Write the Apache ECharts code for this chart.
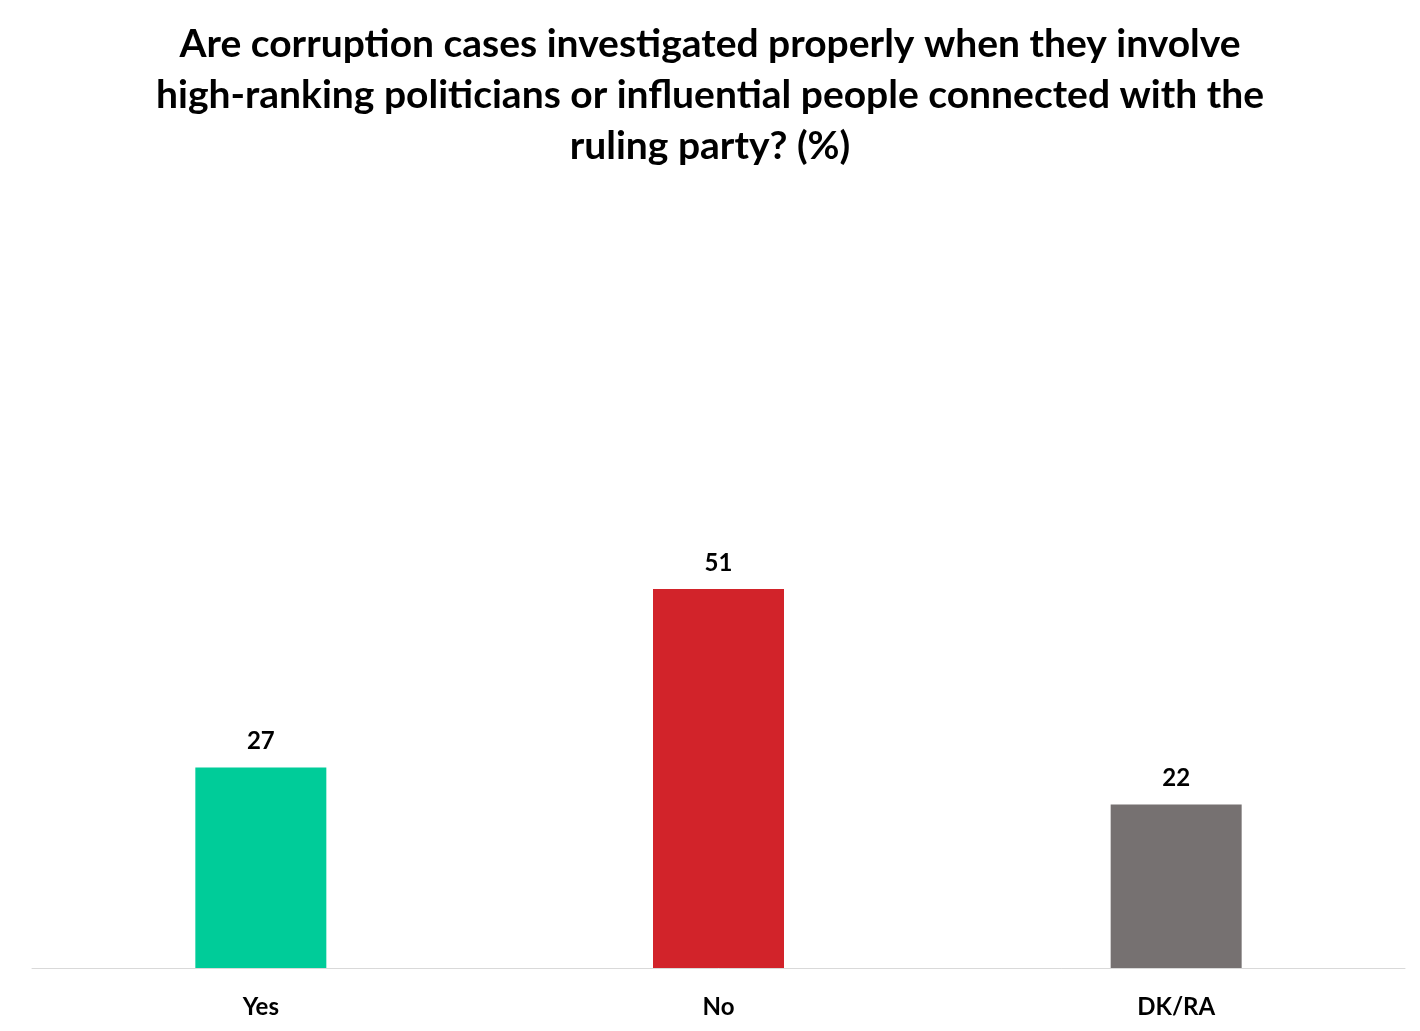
<!DOCTYPE html>
<html><head><meta charset="utf-8">
<script src="https://cdn.jsdelivr.net/npm/echarts@6/dist/echarts.min.js"></script>
<style>html,body{margin:0;padding:0;background:#fff}#c{width:1420px;height:1031px}</style>
</head><body><div id="c"></div>
<script>
const titleLines = ["Are corruption cases investigated properly when they involve","high-ranking politicians or influential people connected with the","ruling party? (%)"];
const categories = ["Yes","No","DK/RA"];
const values = [27,51,22];
const colors = ["#00CC99","#D2232A","#767171"];
const chart = echarts.init(document.getElementById('c'));
chart.setOption({
  animation:false,
  title:{text:titleLines.join('\n'),left:'center',top:14,textStyle:{fontFamily:'Lato',fontWeight:'bold',fontSize:39,lineHeight:51,color:'#000'}},
  grid:{left:32,right:15,top:225,bottom:63,containLabel:false},
  xAxis:{type:'category',data:categories,axisLine:{lineStyle:{color:'#D9D9D9',width:1}},axisTick:{show:false},
    axisLabel:{margin:27,fontFamily:'Lato',fontWeight:'bold',fontSize:24,color:'#000'}},
  yAxis:{type:'value',min:0,max:100,show:false,splitLine:{show:false}},
  series:[{type:'bar',barWidth:131,data:values.map((v,i)=>({value:v,itemStyle:{color:colors[i]}})),
    label:{show:true,position:'top',distance:14,fontFamily:'Lato',fontWeight:'bold',fontSize:24,color:'#000'}}]
});
</script></body></html>
